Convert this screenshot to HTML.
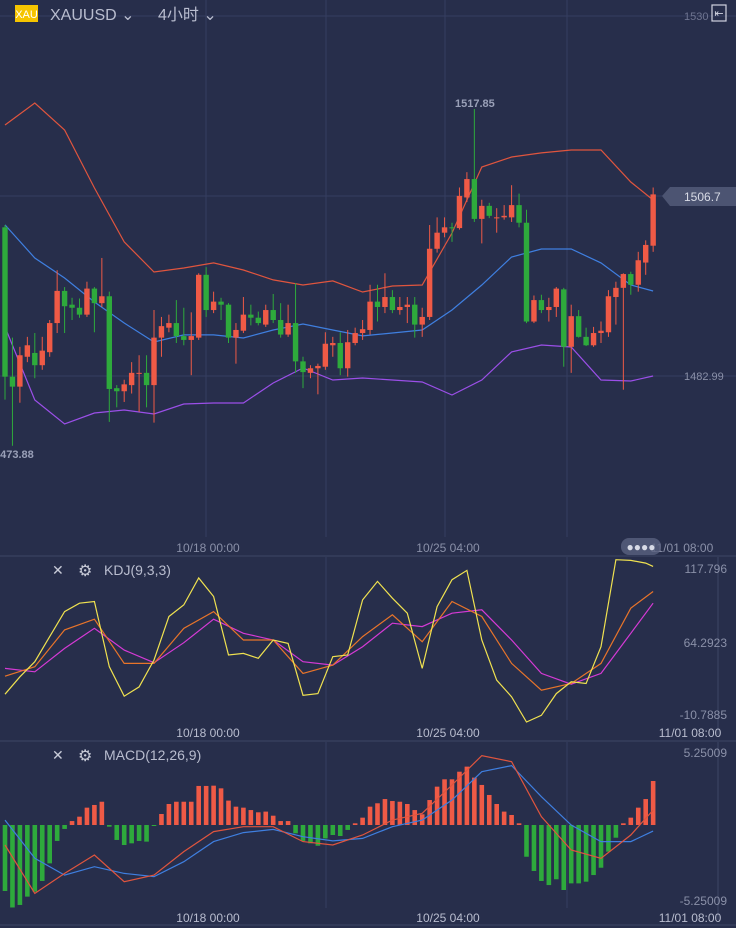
<!DOCTYPE html>
<html><head><meta charset="utf-8">
<style>
html,body{margin:0;padding:0;background:#272e4b;width:736px;height:928px;overflow:hidden;font-family:"Liberation Sans","Noto Sans CJK SC",sans-serif}
svg{display:block}
text{font-family:"Liberation Sans","Noto Sans CJK SC",sans-serif}
</style></head><body>
<svg id="chart" width="736" height="928" viewBox="0 0 736 928" xmlns="http://www.w3.org/2000/svg">
<rect x="0" y="0" width="736" height="928" fill="#272e4b"/>
<g id="grid">
<line x1="0" y1="16" x2="736" y2="16" stroke="#363e60" stroke-width="1"/>
<line x1="0" y1="196" x2="736" y2="196" stroke="#363e60" stroke-width="1"/>
<line x1="0" y1="376" x2="736" y2="376" stroke="#363e60" stroke-width="1"/>
<line x1="206" y1="0" x2="206" y2="537" stroke="#363e60"/>
<line x1="326" y1="0" x2="326" y2="537" stroke="#363e60"/>
<line x1="445" y1="0" x2="445" y2="537" stroke="#363e60"/>
<line x1="567" y1="0" x2="567" y2="537" stroke="#363e60"/>
<line x1="326" y1="557" x2="326" y2="720" stroke="#363e60"/>
<line x1="567" y1="557" x2="567" y2="720" stroke="#363e60"/>
<line x1="326" y1="742" x2="326" y2="908" stroke="#363e60"/>
<line x1="567" y1="742" x2="567" y2="908" stroke="#363e60"/>
<line x1="0" y1="556" x2="736" y2="556" stroke="#3d4566"/>
<line x1="0" y1="741" x2="736" y2="741" stroke="#3d4566"/>
<line x1="0" y1="925" x2="736" y2="925" stroke="#3d4566"/>
<line x1="718" y1="557" x2="718" y2="735" stroke="#3d4566"/>
<line x1="718" y1="742" x2="718" y2="920" stroke="#3d4566"/>
</g>
<g id="bands"></g>
<g id="candles"></g>
<g id="kdj"></g>
<g id="macd"></g>

<!-- header -->
<rect x="15" y="5" width="23" height="17" fill="#f5c400"/>
<text x="26.5" y="18" font-size="11" fill="#ffffff" text-anchor="middle">XAU</text>
<text x="50" y="20" font-size="16" fill="#b9bdcf">XAUUSD ⌄</text>
<text x="158" y="20" font-size="16" fill="#b9bdcf">4小时  ⌄</text>
<text x="684" y="20" font-size="11" fill="#6f7591">1530</text>
<rect x="712" y="5" width="14" height="16" fill="none" stroke="#d0d3e0" stroke-width="1.2"/>
<text x="719" y="17" font-size="11" fill="#d0d3e0" text-anchor="middle">⇤</text>

<text x="455" y="107" font-size="11" font-weight="bold" fill="#9aa0b8">1517.85</text>
<text x="-6" y="458" font-size="11" font-weight="bold" fill="#9aa0b8">1473.88</text>
<text x="684" y="380" font-size="11" fill="#8a90a8">1482.99</text>
<path d="M662,196 L670,187 L736,187 L736,206 L670,206 Z" fill="#4c5472"/>
<text x="684" y="201" font-size="12" fill="#d8dbe6">1506.7</text>

<text x="208" y="552" font-size="12" fill="#8a90a8" text-anchor="middle">10/18 00:00</text>
<text x="448" y="552" font-size="12" fill="#8a90a8" text-anchor="middle">10/25 04:00</text>
<text x="682" y="552" font-size="12" fill="#8a90a8" text-anchor="middle">11/01 08:00</text>
<rect x="621" y="538" width="40" height="17" rx="8" fill="#5a6180" opacity="0.8"/>
<text x="641" y="551" font-size="12" fill="#d8dbe6" text-anchor="middle">●●●●</text>

<text x="52" y="575" font-size="14" fill="#c8cbd8">✕</text>
<text x="78" y="576" font-size="16" fill="#c8cbd8">⚙</text>
<text x="104" y="575" font-size="14" fill="#b9bdcf">KDJ(9,3,3)</text>
<text x="727" y="573" font-size="12" fill="#8a90a8" text-anchor="end">117.796</text>
<text x="727" y="647" font-size="12" fill="#8a90a8" text-anchor="end">64.2923</text>
<text x="727" y="719" font-size="12" fill="#8a90a8" text-anchor="end">-10.7885</text>
<text x="208" y="737" font-size="12" fill="#b9bdcf" text-anchor="middle">10/18 00:00</text>
<text x="448" y="737" font-size="12" fill="#b9bdcf" text-anchor="middle">10/25 04:00</text>
<text x="690" y="737" font-size="12" fill="#b9bdcf" text-anchor="middle">11/01 08:00</text>

<text x="52" y="760" font-size="14" fill="#c8cbd8">✕</text>
<text x="78" y="761" font-size="16" fill="#c8cbd8">⚙</text>
<text x="104" y="760" font-size="14" fill="#b9bdcf">MACD(12,26,9)</text>
<text x="727" y="757" font-size="12" fill="#8a90a8" text-anchor="end">5.25009</text>
<text x="727" y="905" font-size="12" fill="#8a90a8" text-anchor="end">-5.25009</text>
<text x="208" y="922" font-size="12" fill="#b9bdcf" text-anchor="middle">10/18 00:00</text>
<text x="448" y="922" font-size="12" fill="#b9bdcf" text-anchor="middle">10/25 04:00</text>
<text x="690" y="922" font-size="12" fill="#b9bdcf" text-anchor="middle">11/01 08:00</text>
</svg>
<script>
const opens=[1502.4,1482.9,1481.6,1485.5,1486.0,1484.4,1486.1,1489.9,1494.1,1492.3,1491.9,1491.0,1494.4,1492.5,1493.4,1481.4,1481.0,1481.8,1483.3,1483.4,1481.8,1488.0,1489.3,1489.9,1488.2,1487.7,1488.0,1496.2,1491.6,1492.7,1492.3,1488.0,1488.9,1491.0,1490.6,1489.7,1491.6,1490.3,1488.4,1489.9,1484.9,1483.4,1484.0,1484.2,1487.0,1487.3,1484.0,1487.3,1488.6,1489.0,1492.7,1492.0,1493.3,1491.6,1492.0,1492.3,1489.7,1490.7,1499.6,1501.7,1502.4,1502.3,1506.3,1508.7,1503.5,1505.2,1503.6,1503.7,1503.7,1505.3,1503.0,1490.1,1492.9,1491.6,1492.0,1494.3,1486.8,1490.8,1488.1,1487.0,1488.6,1488.7,1493.3,1494.5,1496.3,1494.9,1497.8,1500.0];
const closes=[1482.9,1481.6,1485.7,1487.0,1484.4,1486.3,1489.9,1494.1,1492.1,1491.9,1491.0,1494.4,1492.5,1493.4,1481.3,1481.0,1481.9,1483.4,1483.4,1481.8,1488.0,1489.5,1489.9,1488.2,1487.7,1488.2,1496.2,1491.6,1492.7,1492.3,1488.0,1489.0,1491.0,1490.6,1489.9,1491.6,1490.3,1488.4,1489.9,1484.9,1483.5,1484.0,1484.3,1487.2,1487.3,1484.0,1487.4,1488.6,1489.1,1492.7,1492.0,1493.3,1491.6,1492.0,1492.3,1489.7,1490.7,1499.6,1501.7,1502.4,1502.3,1506.5,1508.7,1503.5,1505.2,1503.9,1503.7,1503.9,1505.3,1503.0,1490.1,1492.9,1491.6,1492.0,1494.4,1486.8,1490.8,1488.1,1487.0,1488.6,1488.9,1493.4,1494.5,1496.3,1494.9,1498.1,1500.1,1506.7];
const highs=[1502.7,1488.0,1486.8,1488.1,1488.6,1488.1,1490.3,1496.8,1494.6,1493.2,1493.1,1495.3,1494.6,1498.4,1494.0,1481.8,1482.5,1484.8,1485.7,1485.7,1491.6,1490.7,1491.0,1492.9,1491.9,1491.3,1496.4,1497.2,1494.0,1493.2,1492.5,1489.9,1493.3,1492.3,1491.4,1492.3,1493.7,1492.5,1492.3,1495.1,1485.5,1484.4,1484.6,1488.7,1488.1,1488.7,1489.0,1489.3,1490.3,1494.9,1494.9,1496.4,1494.2,1493.3,1493.3,1493.3,1491.9,1502.7,1503.7,1503.7,1503.0,1507.6,1509.6,1517.85,1506.0,1505.6,1504.9,1505.3,1507.9,1506.8,1504.7,1493.5,1493.6,1493.2,1494.6,1494.5,1492.3,1491.6,1489.3,1489.4,1490.1,1494.2,1495.3,1496.4,1496.6,1499.2,1500.7,1507.6];
const lows=[1479.9,1473.88,1479.5,1484.8,1482.7,1483.8,1485.5,1488.6,1488.6,1490.3,1490.6,1490.7,1488.7,1492.0,1477.0,1478.9,1479.6,1480.7,1478.3,1478.9,1476.9,1485.5,1488.7,1487.3,1487.0,1483.1,1487.7,1490.7,1491.2,1490.3,1487.3,1484.6,1488.6,1489.6,1489.6,1489.4,1489.9,1488.0,1488.1,1483.4,1481.4,1482.7,1480.6,1483.8,1485.5,1483.1,1482.9,1487.0,1487.7,1488.4,1490.1,1491.2,1491.2,1491.0,1489.9,1488.0,1488.1,1490.3,1499.1,1501.1,1500.5,1502.1,1505.7,1503.1,1500.3,1503.6,1501.7,1503.4,1503.1,1502.4,1489.9,1489.9,1491.2,1490.1,1490.7,1484.2,1483.4,1488.0,1486.9,1486.8,1487.3,1488.1,1489.7,1481.2,1493.6,1494.0,1496.2,1499.2];

// Bollinger band samples (candle index -> value)
const bandIdx=[0,4,8,12,16,20,24,28,32,36,40,44,48,52,56,60,64,68,72,76,80,84,87];
const bollUpper=[1515.76,1518.63,1515.11,1507.54,1500.49,1496.57,1497.09,1497.75,1496.83,1495.53,1494.87,1495.40,1493.96,1494.74,1494.87,1501.66,1510.28,1511.58,1512.11,1512.50,1512.50,1508.32,1505.97];
const bollMid=[1502.71,1498.40,1495.79,1492.65,1489.91,1487.43,1488.35,1488.35,1487.95,1489.0,1489.78,1489.0,1488.22,1488.61,1489.0,1491.61,1494.87,1498.53,1499.57,1499.57,1497.75,1494.87,1494.09];
const bollLower=[1489.39,1479.86,1476.73,1478.16,1478.55,1478.03,1479.34,1479.47,1479.47,1482.08,1484.04,1482.47,1482.73,1482.47,1482.21,1480.51,1482.47,1486.13,1487.04,1486.78,1482.47,1482.34,1482.99];

// KDJ
const jIdx=[0,2,4,6,8,10,12,14,16,18,20,22,24,26,28,30,32,34,36,38,40,42,44,46,48,50,52,54,56,58,60,62,64,66,68,70,72,74,76,78,80,82,84,86,87];
const kdjJ=[11.5,25.0,36.7,56.1,75.5,82.0,83.3,32.8,10.0,17.2,38.0,71.7,80.7,101.5,87.2,41.9,43.1,39.3,53.5,50.9,10.7,12.0,40.6,41.9,84.6,98.9,85.9,74.3,31.5,79.4,100.2,107.4,53.5,22.4,9.5,-10.0,-4.8,12.0,21.1,19.8,48.3,115.7,115.2,113.1,110.5];
const kdIdx=[0,4,8,12,16,20,24,28,32,36,40,44,48,52,56,60,64,68,72,76,80,84,87];
const kdjK=[25.5,32.8,61.3,69.6,35.4,35.4,62.6,75.5,53.5,53.5,27.6,34.1,56.1,73.0,52.2,83.3,71.7,35.4,14.6,19.8,35.4,78.1,91.1];
const kdjD=[31.5,28.9,47.0,62.6,45.7,35.9,51.4,69.6,58.7,53.5,36.7,34.1,48.3,66.5,63.9,74.3,76.9,53.5,27.6,19.3,27.6,58.7,82.0];

// MACD
const macdHist=[-4.68,-5.85,-5.67,-5.08,-4.73,-3.97,-2.72,-1.13,-0.28,0.28,0.59,1.23,1.42,1.65,-0.12,-1.06,-1.42,-1.30,-1.13,-1.18,-0.07,0.78,1.49,1.65,1.65,1.65,2.77,2.77,2.79,2.60,1.73,1.30,1.23,1.06,0.90,0.95,0.66,0.28,0.28,-0.59,-1.13,-1.30,-1.47,-0.95,-0.71,-0.78,-0.35,0.12,0.52,1.30,1.54,1.84,1.70,1.65,1.49,1.06,0.76,1.77,2.72,3.24,3.24,3.78,4.14,3.36,2.84,2.13,1.49,0.95,0.71,0.12,-2.25,-3.26,-3.97,-4.26,-3.85,-4.61,-4.14,-4.14,-4.02,-3.55,-3.03,-1.89,-0.90,0.12,0.52,1.23,1.84,3.12];
const macdIdx=[0,4,8,12,16,20,24,28,32,36,40,44,48,52,56,60,64,68,72,76,80,84,87];
const macdDif=[-1.42,-4.85,-3.43,-2.13,-4.02,-3.55,-1.89,-0.47,-0.12,-0.12,-1.18,-1.42,-0.71,0.35,0.83,2.84,4.92,4.49,0.59,-1.77,-2.36,-0.71,1.06];
const macdDea=[0.35,-2.36,-3.55,-2.96,-3.43,-3.66,-2.60,-1.18,-0.54,-0.31,-0.83,-1.13,-0.95,-0.12,0.35,1.77,3.78,4.21,2.01,0,-1.18,-1.18,-0.43];

const NS='http://www.w3.org/2000/svg';
const UP='#ef5a46', DOWN='#2eaa3c';
function xAt(i){return 5+7.45*i;}
function yPrice(p){return 376-(p-1482.99)*7.66;}
function yKdj(v){return 557+(117.796-v)*1.291;}
function yMacd(v){return 825-v*14.1;}
function mk(tag,attrs,parent){const e=document.createElementNS(NS,tag);for(const k in attrs)e.setAttribute(k,attrs[k]);parent.appendChild(e);return e;}
function poly(idx,vals,yf,color,parent,name){
  const pts=idx.map((i,k)=>xAt(i).toFixed(1)+','+yf(vals[k]).toFixed(1)).join(' ');
  const e=mk('polyline',{points:pts,fill:'none',stroke:color,'stroke-width':1.2},parent);
  
  
}
const bands=document.getElementById('bands');
poly(bandIdx,bollUpper,yPrice,'#e0553e',bands,'bollinger-upper');
poly(bandIdx,bollMid,yPrice,'#3f7fe0',bands,'bollinger-middle');
poly(bandIdx,bollLower,yPrice,'#9b4fe8',bands,'bollinger-lower');

const cg=document.getElementById('candles');
for(let i=0;i<opens.length;i++){
  const up=closes[i]>=opens[i];const col=up?UP:DOWN;const x=xAt(i);
  const g=mk('g',{},cg);
  
  
  mk('line',{x1:x,x2:x,y1:yPrice(highs[i]),y2:yPrice(lows[i]),stroke:col,'stroke-width':1},g);
  const t=yPrice(Math.max(opens[i],closes[i])),b=yPrice(Math.min(opens[i],closes[i]));
  mk('rect',{x:x-2.7,y:t,width:5.4,height:Math.max(1,b-t),fill:col},g);
}

const kg=document.getElementById('kdj');
poly(kdIdx,kdjD,yKdj,'#d53ad5',kg,'kdj-d-line');
poly(kdIdx,kdjK,yKdj,'#e8742a',kg,'kdj-k-line');
poly(jIdx,kdjJ,yKdj,'#f0e250',kg,'kdj-j-line');

const mg=document.getElementById('macd');
for(let i=0;i<macdHist.length;i++){
  const v=macdHist[i];const y0=yMacd(0),y1=yMacd(v);
  const r=mk('rect',{x:xAt(i)-2.3,y:Math.min(y0,y1),width:4.6,height:Math.max(1,Math.abs(y1-y0)),fill:v>=0?UP:DOWN},mg);
  
  
}
poly(macdIdx,macdDea,yMacd,'#3f7fe0',mg,'macd-dea-line');
poly(macdIdx,macdDif,yMacd,'#e0553e',mg,'macd-dif-line');
</script>
</body></html>
